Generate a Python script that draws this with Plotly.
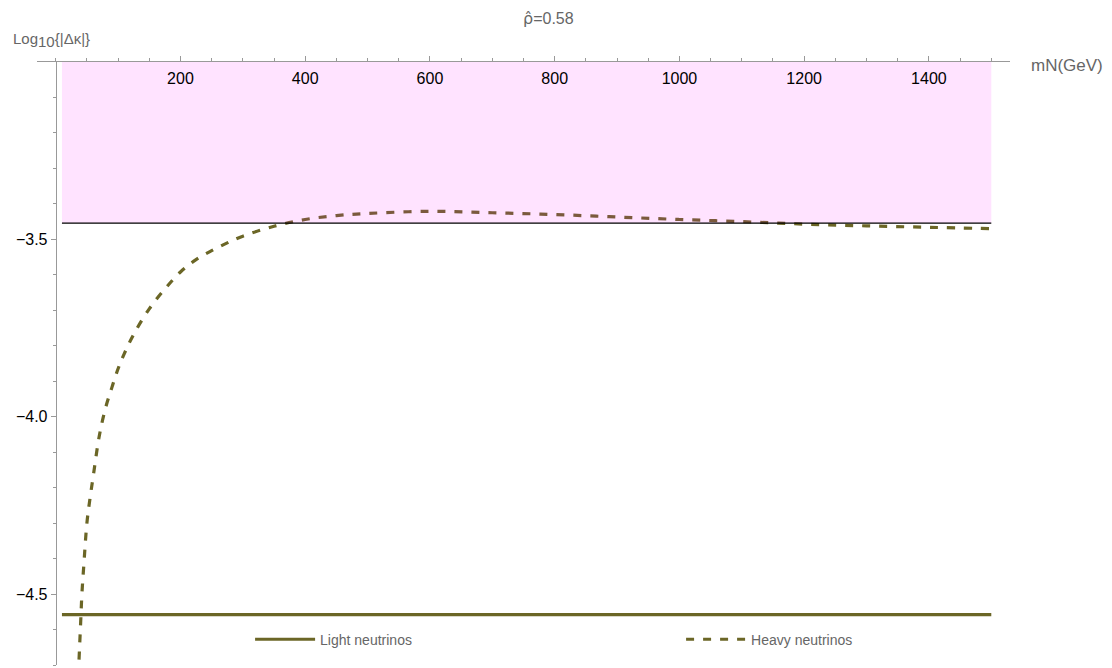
import plotly.graph_objects as go

# ---- data ----
mN_heavy = [35, 37, 40, 42, 45, 50, 55, 60, 70, 80, 90, 100, 110, 125, 150, 175, 200,
            225, 250, 275, 300, 350, 400, 450, 500, 600, 700, 800, 900, 1000, 1100,
            1200, 1300, 1400, 1500]
dk_heavy = [-4.78, -4.70, -4.58, -4.50, -4.42, -4.30, -4.23, -4.17, -4.053, -3.975,
            -3.918, -3.865, -3.822, -3.768, -3.696, -3.640, -3.592, -3.557, -3.532,
            -3.510, -3.491, -3.463, -3.444, -3.433, -3.427, -3.421, -3.425, -3.430,
            -3.437, -3.444, -3.450, -3.457, -3.462, -3.466, -3.470]

mN_light = [10, 1500]
dk_light = [-4.558, -4.558]

bound_x = [10, 1500]
bound_y = -3.454          # experimental bound on log10|Δκ|
axis_top = -3.0

x_major = [200, 400, 600, 800, 1000, 1200, 1400]
y_major = [-3.5, -4.0, -4.5]

olive = "#6b6626"
gray = "#666666"

fig = go.Figure()

fig.add_trace(go.Scatter(x=mN_light, y=dk_light, mode="lines", name="Light neutrinos",
                         line=dict(color=olive, width=3.2)))
fig.add_trace(go.Scatter(x=mN_heavy, y=dk_heavy, mode="lines", name="Heavy neutrinos",
                         line=dict(color=olive, width=3.2, dash="8px,9px", shape="spline")))
# excluded region (drawn over the curves, translucent)
fig.add_trace(go.Scatter(x=[bound_x[0], bound_x[1], bound_x[1], bound_x[0]],
                         y=[bound_y, bound_y, axis_top, axis_top],
                         mode="lines", fill="toself", fillcolor="rgba(255,0,255,0.11)",
                         line=dict(width=0), showlegend=False, hoverinfo="skip"))
fig.add_trace(go.Scatter(x=bound_x, y=[bound_y, bound_y], mode="lines",
                         line=dict(color="black", width=1.2), showlegend=False,
                         hoverinfo="skip"))

xr = [-30, 1530]
# the page body adds an 8px offset; figure sized to fit the window exactly
fig.update_layout(
    width=1104, height=660,
    margin=dict(l=29, r=102, t=54, b=3, autoexpand=False),
    plot_bgcolor="white", paper_bgcolor="white",
    font=dict(family="Liberation Sans, Arial, sans-serif", size=16, color="black"),
    xaxis=dict(range=xr, side="top", anchor="y", showline=True, linecolor="#999999",
               linewidth=1, showgrid=False, zeroline=False, automargin=False,
               tickvals=x_major, ticks="outside", ticklen=5, tickcolor="#999999",
               ticklabelposition="inside", ticklabelstandoff=11,
               tickfont=dict(size=16, color="black"),
               minor=dict(tickvals=list(range(0, 1501, 50)), ticks="outside", ticklen=3,
                          tickcolor="#999999", showgrid=False)),
    yaxis=dict(range=[-4.7, -3.0], anchor="free", position=(0 - xr[0]) / (xr[1] - xr[0]),
               showline=True, linecolor="#999999", linewidth=1, showgrid=False,
               zeroline=False, automargin=False,
               tickvals=y_major, ticktext=["−3.5", "−4.0", "−4.5"],
               ticks="outside", ticklen=5, tickcolor="#999999",
               tickfont=dict(size=16, color="black"),
               minor=dict(dtick=0.1, tick0=-3.0, ticks="outside", ticklen=3,
                          tickcolor="#999999", showgrid=False)),
    legend=dict(orientation="h", x=0.219, y=0.042, xanchor="left", yanchor="middle",
                entrywidth=356, entrywidthmode="pixels", itemwidth=60,
                font=dict(family="Liberation Sans Narrow, Arial Narrow, Liberation Sans",
                          size=14, color=gray),
                bgcolor="rgba(0,0,0,0)"),
    showlegend=True,
)

fig.add_annotation(text="<span style=\"font-family:DejaVu Sans\">ρ̂</span>=0.58",
                   xref="paper", yref="paper", x=0.526, y=1.0,
                   yshift=62 - 18, xanchor="center", yanchor="middle", showarrow=False,
                   font=dict(size=16, color=gray))
fig.add_annotation(text="Log<sub><span style=\"font-size:15px\">10</span></sub>{|Δκ|}",
                   xref="paper", yref="paper",
                   x=(11 - 37) / 973, y=1.0, yshift=62 - 40, xanchor="left",
                   yanchor="middle", showarrow=False, font=dict(size=15, color=gray))
fig.add_annotation(text="mN(GeV)", xref="paper", yref="paper", x=1.0, y=1.0,
                   xshift=19, yshift=-3, xanchor="left", yanchor="middle", showarrow=False,
                   font=dict(size=17, color=gray))

fig.write_html("out.html")
